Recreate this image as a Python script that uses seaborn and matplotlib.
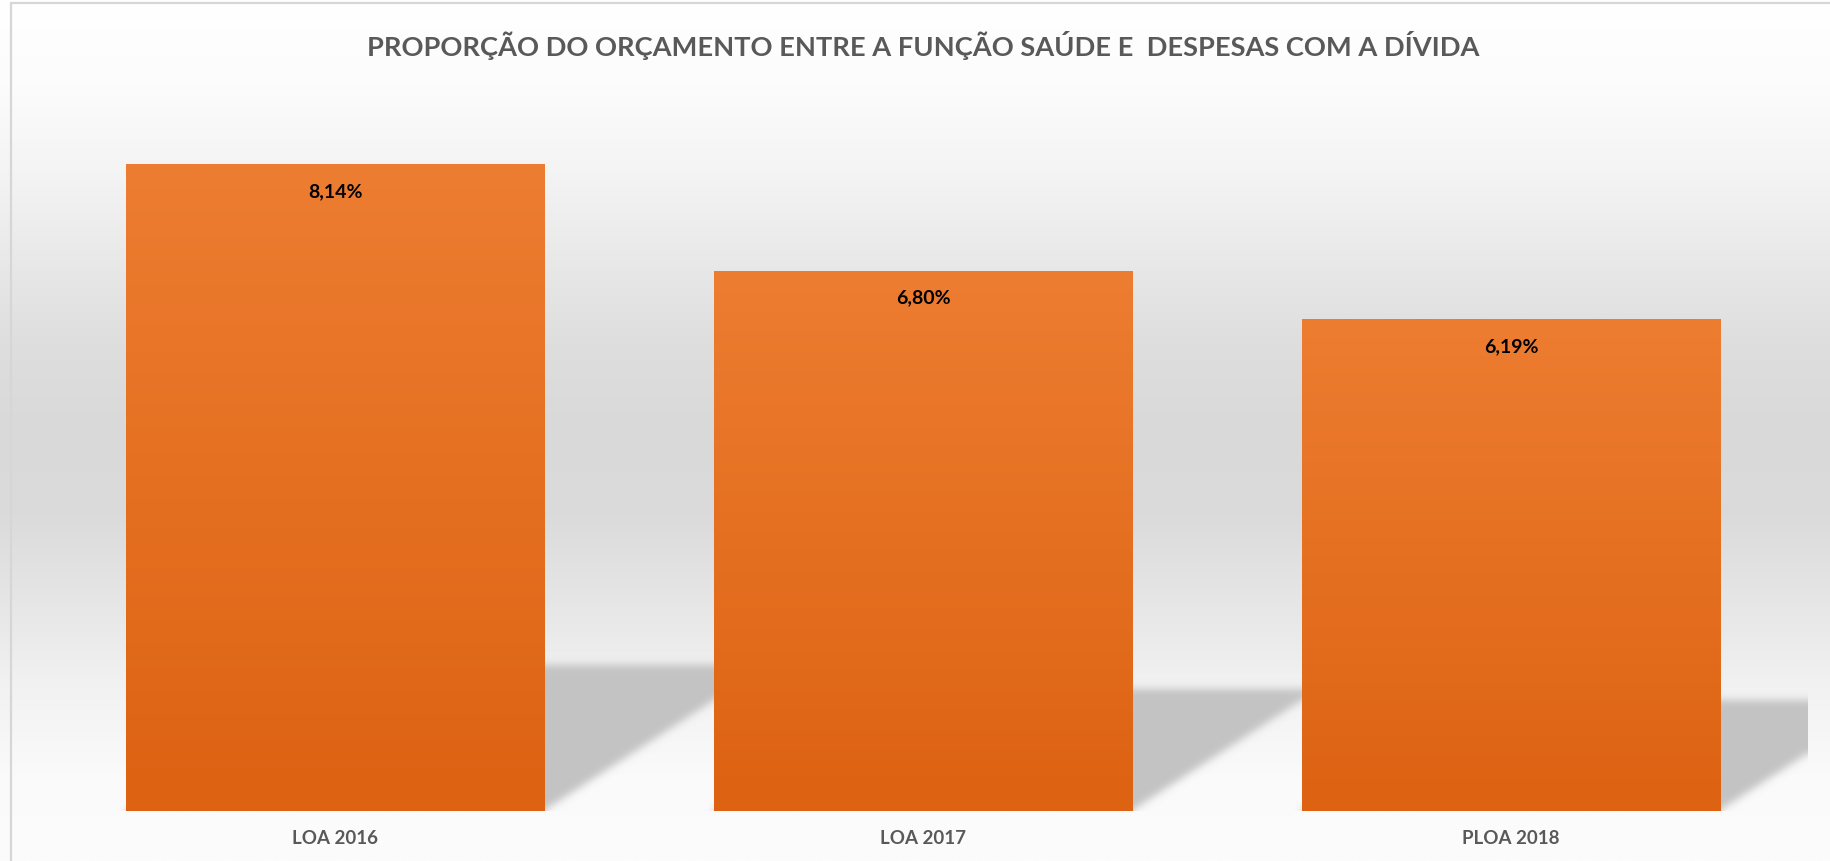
import numpy as np
import matplotlib
matplotlib.use("Agg")
import matplotlib.pyplot as plt
import seaborn as sns
from matplotlib.lines import Line2D

# ---------------- data ----------------
categories = ["LOA 2016", "LOA 2017", "PLOA 2018"]
values = [8.14, 6.80, 6.19]
title = "PROPORÇÃO DO ORÇAMENTO ENTRE A FUNÇÃO SAÚDE E  DESPESAS COM A DÍVIDA"

sns.set_theme(style="white")
plt.rcParams["font.family"] = ["Lato", "DejaVu Sans"]

W, H = 1830, 862
fig = plt.figure(figsize=(W / 100, H / 100), dpi=100)

# ---------------- background gradient + frame ----------------
bg = fig.add_axes([0, 0, 1, 1], zorder=-10)
stops_y = np.array([0.0, 0.1, 0.2, 0.3, 0.4, 0.5, 0.6, 0.7, 0.8, 0.9, 1.0])
stops_g = np.array([255, 252, 244, 233, 222, 217, 219, 230, 242, 250, 252]) / 255.0
yy = np.linspace(0, 1, H)
g = np.interp(yy, stops_y, stops_g)
grad = np.repeat(g[:, None], 4, axis=1)
img = np.dstack([grad, grad, grad])
bg.imshow(img, extent=(0, W, H, 0), aspect="auto", interpolation="bilinear")
bg.set_xlim(0, W)
bg.set_ylim(H, 0)
bg.add_line(Line2D([11, 11], [4, H], color="#d6d6d6", lw=1.6))
bg.add_line(Line2D([11, W], [4, 4], color="#d6d6d6", lw=1.6))
bg.axis("off")

# ---------------- main axes ----------------
left_px, right_px, top_px, bot_px = 41, 1808, 97, 812
ax = fig.add_axes([left_px / W, (H - bot_px) / H, (right_px - left_px) / W, (bot_px - top_px) / H])
ax.set_facecolor("none")

bar_w = 0.711
sns.barplot(x=categories, y=values, color="#E8722A", width=bar_w, ax=ax, saturation=1, zorder=3)
ax.set_xlim(-0.5, 2.505)
ax.set_ylim(0, 9.0)

# ---------------- soft shadows (sheared bar footprints) ----------------
k_h = 0.225      # shadow height relative to bar value
k_s = 0.0467     # horizontal shear relative to bar value
nx, ny = right_px - left_px, bot_px - top_px
xs = np.linspace(-0.5, 2.505, nx)
ys = np.linspace(9.0, 0, ny)
X, Y = np.meshgrid(xs, ys)
mask = np.zeros_like(X)
for i, v in enumerate(values):
    top = k_h * v
    t = np.clip(Y / top, 0, 1)
    lx = i - bar_w / 2 + t * k_s * v
    rx = i + bar_w / 2 + t * k_s * v
    inside = (Y >= 0) & (Y <= top) & (X >= lx) & (X <= rx)
    mask = np.maximum(mask, inside.astype(float))

def blur(a, sigma):
    r = int(3 * sigma)
    kx = np.exp(-np.arange(-r, r + 1) ** 2 / (2 * sigma ** 2))
    kx /= kx.sum()
    pad = np.pad(a, r, mode="edge")
    tmp = np.apply_along_axis(lambda m: np.convolve(m, kx, mode="valid"), 1, pad)
    out = np.apply_along_axis(lambda m: np.convolve(m, kx, mode="valid"), 0, tmp)
    return out

mask = blur(mask, 4.0)
shadow = np.zeros((ny, nx, 4))
shadow[..., :3] = 0.765
shadow[..., 3] = mask
ax.imshow(shadow, extent=(-0.5, 2.505, 0, 9.0), aspect="auto", zorder=1, interpolation="bilinear")

# ---------------- gradient fill on bars ----------------
top_c = np.array([237, 125, 49]) / 255
bot_c = np.array([221, 98, 18]) / 255
tt = np.linspace(0, 1, 256)[:, None]
bar_grad = top_c[None, :] * (1 - tt) + bot_c[None, :] * tt
bar_grad = np.repeat(bar_grad[:, None, :], 2, axis=1)
for p, v in zip(ax.patches, values):
    x0 = p.get_x()
    w = p.get_width()
    p.set_edgecolor("none")
    im = ax.imshow(bar_grad, extent=(x0, x0 + w, 0, v), aspect="auto", zorder=4, interpolation="bilinear")
    im.set_clip_path(p)

ax.set_xlim(-0.5, 2.505)
ax.set_ylim(0, 9.0)

# ---------------- value labels ----------------
for i, v in enumerate(values):
    ax.annotate(f"{v:.2f}".replace(".", ",") + "%", xy=(i, v), xytext=(0, -19),
                textcoords="offset points", ha="center", va="center",
                fontsize=14, fontweight="bold", color="black", zorder=6)

# ---------------- axes styling ----------------
for s in ax.spines.values():
    s.set_visible(False)
ax.set_yticks([])
ax.set_ylabel("")
ax.set_xlabel("")
ax.tick_params(axis="x", length=0, pad=13, labelsize=13.5, labelcolor="#595959")
for lab in ax.get_xticklabels():
    lab.set_fontweight("bold")

# ---------------- title (sized to reference width) ----------------
tt_text = fig.text(923 / W, 1 - 45 / H, title, ha="center", va="center",
                   fontsize=20, fontweight="bold", color="#595959")
fig.canvas.draw()
bb = tt_text.get_window_extent()
target = 1113
tt_text.set_fontsize(20 * target / bb.width)

fig.savefig("out.png", dpi=100)
